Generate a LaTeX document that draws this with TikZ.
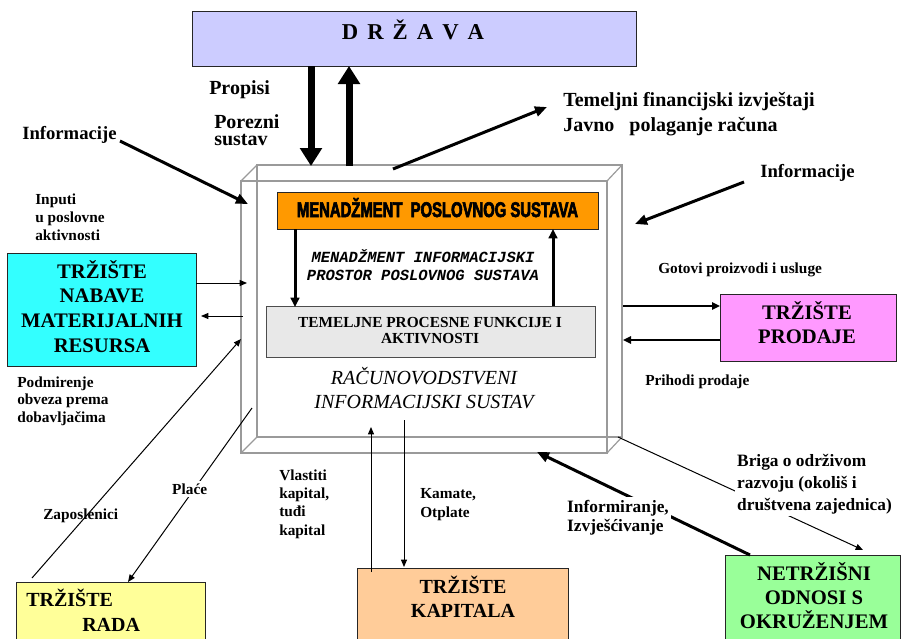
\documentclass[tikz,border=0pt]{standalone}
\usepackage{fontspec}
\setmainfont{Liberation Serif}
\newfontfamily\monof{Liberation Mono}
\newfontfamily\condf[FakeStretch=0.7,FakeBold=3]{Liberation Sans}
\usetikzlibrary{arrows.meta}
\definecolor{cLav}{HTML}{CCCCFF}
\definecolor{cOrange}{HTML}{FF9900}
\definecolor{cGrayBox}{HTML}{E8E8E8}
\definecolor{cCyan}{HTML}{33FFFF}
\definecolor{cPink}{HTML}{FF99FF}
\definecolor{cYellow}{HTML}{FFFF99}
\definecolor{cPeach}{HTML}{FFCC99}
\definecolor{cGreen}{HTML}{99FF99}
\definecolor{cFrame}{HTML}{9A9A9A}
\newcommand\myfs[2]{\fontsize{#1}{#2}\selectfont}
\begin{document}
\begin{tikzpicture}[x=0.75pt,y=-0.75pt,
 box/.style={draw=black!85, line width=0.75pt, inner sep=0pt},
 tl/.style={inner sep=0pt, anchor=base west, align=left},
 tc/.style={inner sep=0pt, anchor=base, align=center},
 bigarr/.style={line width=5.25pt, -{Triangle[length=13.5pt,width=16pt]}},
 midarr/.style={line width=2.25pt, -{Triangle[length=9pt,width=7.5pt]}},
 inarr/.style={line width=2.25pt, -{Triangle[length=7pt,width=6.5pt]}},
 medarr/.style={line width=1.5pt, -{Triangle[length=6pt,width=5.5pt]}},
 thinarr/.style={line width=0.75pt, -{Triangle[length=5.5pt,width=4.5pt]}},
 frame/.style={draw=cFrame, line width=0.9pt},
 small/.style={font=\bfseries\myfs{11.5pt}{13.5pt}},
 wbg/.style={fill=white, inner sep=2pt}
]
\useasboundingbox (0,0) rectangle (901,639);
\clip (0,0) rectangle (901,639);

% ---------- main 3D frame ----------
\draw[frame] (257,165) rectangle (622,437);
\draw[frame] (241,181) rectangle (607,453);
\draw[frame] (241,181) -- (257,165);
\draw[frame] (607,181) -- (622,165);
\draw[frame] (241,453) -- (257,437);
\draw[frame] (607,453) -- (622,437);

% ---------- boxes ----------
\node[box, fill=cLav, minimum width={444*0.75pt}, minimum height={55*0.75pt}] (drz) at (414,38.5) {};
\node[box, fill=cOrange, minimum width={321*0.75pt}, minimum height={37*0.75pt}] (men) at (437.5,210.5) {};
\node[box, fill=cGrayBox, draw=black!70, minimum width={329*0.75pt}, minimum height={51*0.75pt}] (tem) at (430.5,331.5) {};
\node[box, fill=cCyan, minimum width={189*0.75pt}, minimum height={113*0.75pt}] (nab) at (101.5,309.5) {};
\node[box, fill=cPink, minimum width={176*0.75pt}, minimum height={67*0.75pt}] (prod) at (808,327.5) {};
\node[box, fill=cYellow, minimum width={189*0.75pt}, minimum height={68*0.75pt}] (rada) at (110.5,616) {};
\node[box, fill=cPeach, minimum width={211*0.75pt}, minimum height={82*0.75pt}] (kap) at (462.5,609) {};
\node[box, fill=cGreen, minimum width={175*0.75pt}, minimum height={95*0.75pt}] (netr) at (812.5,602.5) {};

% ---------- box texts (base anchor = last line baseline) ----------
\node[tc, font=\bfseries\myfs{17pt}{20pt}] (tdrz) at (413,40) {D\hspace{0.4em}R\hspace{0.4em}Ž\hspace{0.4em}A\hspace{0.4em}V\hspace{0.4em}A};
\node[tc, font=\condf\bfseries\myfs{15.9pt}{18pt}] (tmen) at (437.5,217) {MENADŽMENT\ \ POSLOVNOG SUSTAVA};
\node[tc, font=\monof\bfseries\itshape\myfs{11.6pt}{13.5pt}] (tmono) at (423,280) {MENADŽMENT INFORMACIJSKI\\PROSTOR POSLOVNOG SUSTAVA};
\node[tc, font=\bfseries\myfs{11.5pt}{12pt}] (ttem) at (430,343) {TEMELJNE PROCESNE FUNKCIJE I\\AKTIVNOSTI};
\node[tc, font=\itshape\myfs{15pt}{18pt}] (trac) at (424,408) {RAČUNOVODSTVENI\\INFORMACIJSKI SUSTAV};
\node[tc, font=\bfseries\myfs{15.5pt}{18.4pt}] (tnab) at (102,352) {TRŽIŠTE\\NABAVE\\MATERIJALNIH\\RESURSA};
\node[tc, font=\bfseries\myfs{15.5pt}{18pt}] (tprod) at (807,343) {TRŽIŠTE\\PRODAJE};
\node[tl, font=\bfseries\myfs{15pt}{18.75pt}] (trada) at (26,631) {TRŽIŠTE\\\hspace*{42pt}RADA};
\node[tc, font=\bfseries\myfs{15pt}{18pt}] (tkap) at (463,617) {TRŽIŠTE\\KAPITALA};
\node[tc, font=\bfseries\myfs{15.5pt}{18pt}] (tnetr) at (814,628) {NETRŽIŠNI\\ODNOSI S\\OKRUŽENJEM};

% ---------- free labels ----------
\node[tl, font=\bfseries\myfs{15pt}{18pt}] (lprop) at (209,94) {Propisi};
\node[tl, font=\bfseries\myfs{15pt}{12.75pt}] (lpor) at (214,145) {Porezni\\sustav};
\node[tl, font=\bfseries\myfs{15pt}{18.75pt}] (ltem) at (563,131) {Temeljni financijski izvještaji\\Javno\ \ \ polaganje računa};
\node[tl, font=\bfseries\myfs{14pt}{16pt}] (linfl) at (22,139) {Informacije};
\node[tl, font=\bfseries\myfs{14pt}{16pt}] (linfr) at (760,177) {Informacije};
\node[tl, font=\bfseries\myfs{11.5pt}{13.5pt}] (linp) at (35,240) {Inputi\\u poslovne\\aktivnosti};
\node[tl, font=\bfseries\myfs{11.5pt}{13.1pt}] (lpod) at (17,422) {Podmirenje\\obveza prema\\dobavljačima};
\node[tl, small] (lgot) at (658,273) {Gotovi proizvodi i usluge};
\node[tl, small] (lpri) at (645,385) {Prihodi prodaje};
\node[tl, font=\bfseries\myfs{11.5pt}{13.7pt}] (lvla) at (279,535) {Vlastiti\\kapital,\\tuđi\\kapital};
\node[tl, font=\bfseries\myfs{11.5pt}{14.2pt}] (lkam) at (420,517) {Kamate,\\Otplate};
\node[tl, small] (lzap) at (43,519) {Zaposlenici};

% ---------- connector end points ----------
\coordinate (pd1) at (311,66);  \coordinate (pd2) at (311,166);
\coordinate (pu1) at (349,166); \coordinate (pu2) at (349,66);
\coordinate (ft1) at (393,169); \coordinate (ft2) at (547,107);
\coordinate (il1) at (120,141); \coordinate (il2) at (248,204);
\coordinate (na1) at (196,283); \coordinate (na2) at (247,283);
\coordinate (na3) at (243,316); \coordinate (na4) at (201,316);
\coordinate (za1) at (32,578);  \coordinate (za2) at (241,339);
\coordinate (pl1) at (252,408); \coordinate (pl2) at (128,582);
\coordinate (ka1) at (371,572); \coordinate (ka2) at (371,427);
\coordinate (ka3) at (404,420); \coordinate (ka4) at (404,567);
\coordinate (ir1) at (744,182); \coordinate (ir2) at (635,224);
\coordinate (go1) at (623,306); \coordinate (go2) at (720,306);
\coordinate (pr1) at (720,340); \coordinate (pr2) at (623,340);
\coordinate (if1) at (750,555); \coordinate (if2) at (537,452);
\coordinate (br1) at (618,437); \coordinate (br2) at (863,550);
\coordinate (md1) at (295,229); \coordinate (md2) at (295,307);
\coordinate (mu1) at (553,306); \coordinate (mu2) at (553,229);

% ---------- connectors ----------
\draw[bigarr] (pd1) -- (pd2);
\draw[bigarr] (pu1) -- (pu2);
\draw[midarr] (ft1) -- (ft2);
\draw[midarr] (il1) -- (il2);
\draw[thinarr] (na1) -- (na2);
\draw[thinarr] (na3) -- (na4);
\draw[thinarr] (za1) -- (za2);
\draw[thinarr] (pl1) -- (pl2);
\draw[thinarr] (ka1) -- (ka2);
\draw[thinarr] (ka3) -- (ka4);
\draw[midarr] (ir1) -- (ir2);
\draw[medarr] (go1) -- (go2);
\draw[medarr] (pr1) -- (pr2);
\draw[midarr] (if1) -- (if2);
\draw[thinarr] (br1) -- (br2);
\draw[inarr] (md1) -- (md2);
\draw[inarr] (mu1) -- (mu2);

% ---------- labels over connectors ----------
\node[tl, small, wbg] (lpla) at (169.3,494) {Plaće};
\node[tl, wbg, font=\bfseries\myfs{13pt}{14.25pt}] (linf) at (564.3,531) {Informiranje,\\Izvješćivanje};
\node[tl, wbg, font=\bfseries\myfs{13pt}{16.5pt}] (lbri) at (734.3,510) {Briga o održivom\\razvoju (okoliš i\\društvena zajednica)};
\end{tikzpicture}
\end{document}
